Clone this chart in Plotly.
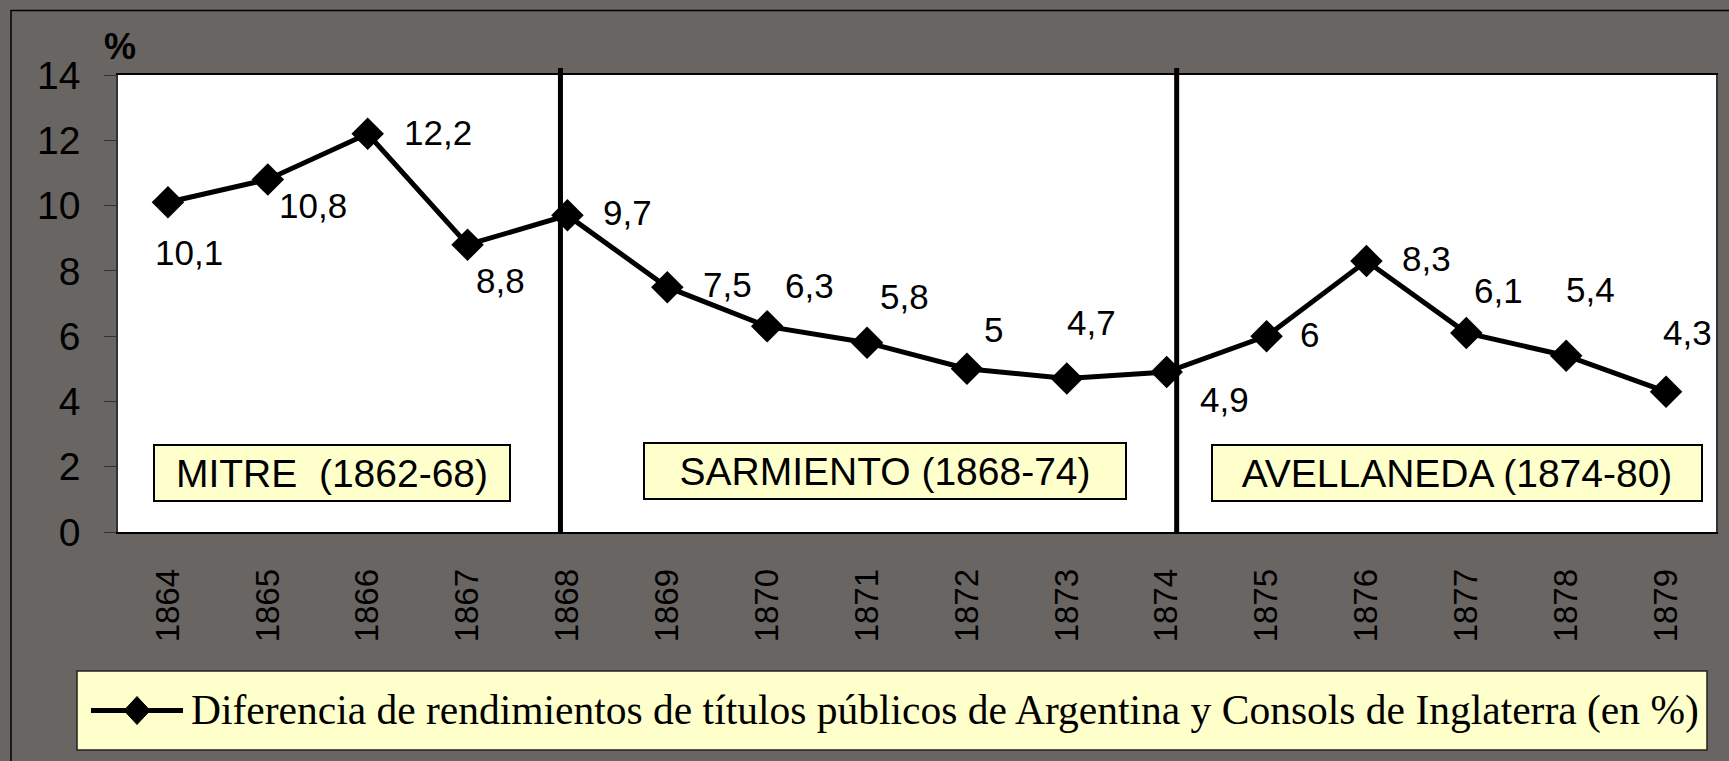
import plotly.graph_objects as go

years = [1864, 1865, 1866, 1867, 1868, 1869, 1870, 1871, 1872, 1873, 1874, 1875, 1876, 1877, 1878, 1879]
spread = [10.1, 10.8, 12.2, 8.8, 9.7, 7.5, 6.3, 5.8, 5.0, 4.7, 4.9, 6.0, 8.3, 6.1, 5.4, 4.3]
series_name = "Diferencia de rendimientos de títulos públicos de Argentina y Consols de Inglaterra (en %)"
periods = ["MITRE  (1862-68)", "SARMIENTO (1868-74)", "AVELLANEDA (1874-80)"]
period_breaks = [1868, 1874]

# label offsets (pixels) per point, layout only
label_dx = [21, 45, 70, 33, 60, 60, 42, 37, 27, 25, 58, 43, 60, 32, 24, 21]
label_dy = [-50, -26, 1, -36, 3, 3, 41, 46, 39, 56, -27, 2, 3, 42, 66, 59]

BG = "#686563"
W, H = 1729, 761
L, R, T, B = 118, 13, 75, 229
pw, ph = W - L - R, H - T - B


def px(xp):
    return (xp - L) / pw


def py(yp):
    return (H - B - yp) / ph


fig = go.Figure()
fig.add_trace(go.Scatter(
    x=years, y=spread, mode="lines+markers", name=series_name, showlegend=False,
    line=dict(color="black", width=5),
    marker=dict(symbol="diamond", size=25, color="black"),
))

fmt = lambda v: ("%g" % v).replace(".", ",")
for i, (yr, v) in enumerate(zip(years, spread)):
    fig.add_annotation(x=yr, y=v, text=fmt(v), showarrow=False,
                       xshift=label_dx[i], yshift=label_dy[i],
                       font=dict(family="Liberation Sans, Arial", size=35, color="black"))

# period boxes
box_x = [1865.64, 1871.18, 1876.91]
box_y = [1.81, 1.87, 1.81]
box_w = [354, 480, 488]
for name, bx, by, bw in zip(periods, box_x, box_y, box_w):
    fig.add_annotation(x=bx, y=by, text=name, showarrow=False,
                       width=bw, height=54, borderpad=0,
                       bgcolor="#FFFFCC", bordercolor="black", borderwidth=2,
                       font=dict(family="Liberation Sans, Arial", size=39, color="black"))

shapes = []
offs = [-0.07, 0.10]
for xb, o in zip(period_breaks, offs):
    shapes.append(dict(type="line", xref="x", yref="paper", x0=xb + o, x1=xb + o,
                       y0=0, y1=py(68), line=dict(color="black", width=5), layer="above"))
# outer frame
shapes.append(dict(type="rect", xref="paper", yref="paper",
                   x0=px(11), x1=px(W + 20), y0=py(H + 20), y1=py(10.5),
                   line=dict(color="black", width=1.5), fillcolor="rgba(0,0,0,0)", layer="below"))
# legend box and key
lg_top, lg_bot, lg_left, lg_right = 671, 750, 77, 1707
ky = (lg_top + lg_bot) / 2
shapes.append(dict(type="rect", xref="paper", yref="paper",
                   x0=px(lg_left), x1=px(lg_right), y0=py(lg_bot), y1=py(lg_top),
                   line=dict(color="#222", width=1.5), fillcolor="#FFFFCC", layer="below"))
shapes.append(dict(type="line", xref="paper", yref="paper",
                   x0=px(91), x1=px(183), y0=py(ky), y1=py(ky),
                   line=dict(color="black", width=5)))
d = 13
shapes.append(dict(type="path", xref="paper", yref="paper",
                   path=f"M {px(137 - d)},{py(ky)} L {px(137)},{py(ky - d - 1)} L {px(137 + d)},{py(ky)} L {px(137)},{py(ky + d + 1)} Z",
                   line=dict(color="black", width=1), fillcolor="black"))
fig.update_layout(shapes=shapes)

fig.add_annotation(xref="paper", yref="paper", x=px(189), y=py(ky), xanchor="left", yanchor="middle",
                   text=series_name, showarrow=False,
                   font=dict(family="Liberation Serif, Times New Roman", size=41.5, color="black"))

fig.add_annotation(xref="paper", yref="paper", x=px(120), y=py(46), xanchor="center", yanchor="middle",
                   text="<b>%</b>",
                   showarrow=False, font=dict(family="Liberation Sans, Arial", size=36, color="black"))

fig.update_layout(
    width=W, height=H,
    margin=dict(l=L, r=R, t=T, b=B),
    paper_bgcolor=BG, plot_bgcolor="white",
    showlegend=False,
    xaxis=dict(range=[1863.5, 1879.5], tickvals=years, ticktext=[str(y) for y in years],
               tickangle=-90, showgrid=False, zeroline=False,
               showline=True, linecolor="black", linewidth=1.5, mirror=True,
               ticks="", ticklabelstandoff=22,
               tickfont=dict(family="Liberation Sans, Arial", size=33, color="black")),
    yaxis=dict(range=[0, 14], dtick=2, showgrid=False, zeroline=False,
               showline=True, linecolor="#333", linewidth=1.5, mirror=True,
               ticks="outside", ticklen=12, tickcolor="#333",
               ticklabelstandoff=16,
               tickfont=dict(family="Liberation Sans, Arial", size=39, color="black")),
)

fig.write_html("out.html", config={"displayModeBar": False},
               post_script="document.body.style.margin='0';document.body.style.overflow='hidden';"
                           "document.body.style.background='" + BG + "';")
